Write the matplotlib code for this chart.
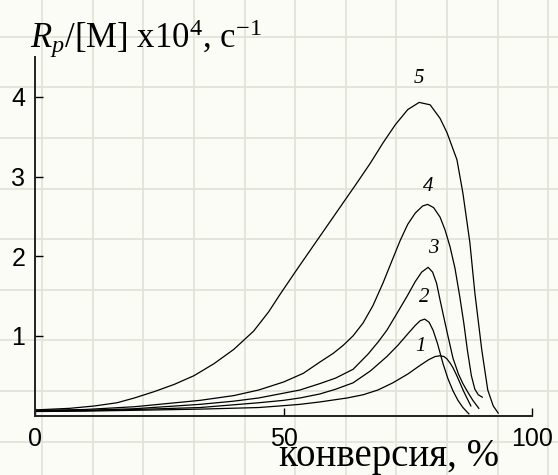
import matplotlib
matplotlib.use("Agg")
import matplotlib.pyplot as plt
from matplotlib.lines import Line2D

# Polymerisation rate curves: conversion (%) vs Rp/[M] x10^4, s^-1
conv_1 = [0, 10, 20, 33.2, 45, 49.3, 53.3, 57.3, 62.8, 66, 69, 72, 75, 77.5, 79.2, 80.5, 81.5, 82.3, 82.9, 83.6, 84.1, 84.8, 85.5, 86.2, 86.9, 87.7]
rate_1 = [0.05, 0.055, 0.065, 0.08, 0.10, 0.12, 0.14, 0.17, 0.22, 0.26, 0.32, 0.41, 0.52, 0.63, 0.70, 0.74, 0.75, 0.74, 0.71, 0.65, 0.60, 0.51, 0.41, 0.31, 0.22, 0.12]

conv_2 = [0, 10, 20, 33.2, 45, 50, 53.3, 57.3, 60.5, 64, 67.5, 70.8, 73, 74.8, 76.5, 77.5, 78.4, 79.3, 80.1, 81, 82.1, 83.1, 84.1, 85.1, 86.1, 87.3]
rate_2 = [0.055, 0.06, 0.075, 0.10, 0.16, 0.19, 0.22, 0.27, 0.33, 0.41, 0.56, 0.74, 0.88, 1.01, 1.13, 1.19, 1.21, 1.17, 1.07, 0.90, 0.65, 0.46, 0.31, 0.19, 0.10, 0.02]

conv_3 = [0, 10, 20, 33.2, 40, 45, 50, 53.3, 57.3, 60.5, 64, 67, 69, 70.8, 73, 74.8, 76.5, 77.8, 79.1, 80.0, 80.8, 81.5, 82.3, 82.9, 84.1, 85.2, 86.1, 87.2, 88.1, 89.3]
rate_3 = [0.06, 0.065, 0.085, 0.14, 0.18, 0.22, 0.28, 0.32, 0.40, 0.47, 0.58, 0.77, 0.92, 1.07, 1.30, 1.49, 1.68, 1.80, 1.86, 1.80, 1.66, 1.45, 1.22, 1.05, 0.72, 0.52, 0.40, 0.28, 0.19, 0.09]

conv_4 = [0, 10, 20, 33.2, 40, 45, 50, 54, 57.3, 60, 62, 64, 66, 68, 70, 72, 73.5, 75, 76.5, 78, 79, 80.2, 81.5, 82.5, 83.5, 84.5, 85.5, 86.3, 87, 87.8, 88.5, 89.2, 90]
rate_4 = [0.065, 0.075, 0.11, 0.19, 0.25, 0.32, 0.42, 0.53, 0.67, 0.78, 0.88, 1.0, 1.16, 1.38, 1.66, 1.97, 2.2, 2.40, 2.54, 2.63, 2.65, 2.61, 2.49, 2.33, 2.12, 1.85, 1.48, 1.15, 0.82, 0.50, 0.33, 0.26, 0.23]

conv_5 = [0, 7, 12, 16.5, 20, 24, 28, 32, 36, 40, 44, 47, 49.3, 53, 57, 61, 65, 67.5, 70, 72.5, 75, 77.3, 79.5, 81.5, 82.9, 84.9, 86.1, 87.5, 88.5, 89.9, 91.1, 92.2, 93.2]
rate_5 = [0.07, 0.09, 0.12, 0.16, 0.22, 0.30, 0.39, 0.50, 0.65, 0.83, 1.06, 1.30, 1.52, 1.86, 2.22, 2.58, 2.94, 3.17, 3.42, 3.65, 3.84, 3.93, 3.90, 3.73, 3.55, 3.21, 2.79, 2.17, 1.54, 0.82, 0.32, 0.12, 0.03]

series = [(conv_1, rate_1), (conv_2, rate_2), (conv_3, rate_3), (conv_4, rate_4), (conv_5, rate_5)]
curve_names = ["1", "2", "3", "4", "5"]
name_x = [77.5, 78.3, 80.1, 79.1, 77.3]
name_y = [0.86, 1.48, 2.09, 2.87, 4.23]

x_ticks = [0, 50, 100]
y_ticks = [1, 2, 3, 4]

W, H = 558, 475
fig = plt.figure(figsize=(W / 100, H / 100), dpi=100, facecolor="#fcfcf7")

# graph-paper background
for k in range(12):
    px = 42.1 + 50.6 * k
    if px < W:
        fig.add_artist(Line2D([px / W, px / W], [0, 1], transform=fig.transFigure,
                              color="#e3e3da", lw=1.3, zorder=0))
for k in range(10):
    py = 36.8 + 50.6 * k
    if py < H:
        fig.add_artist(Line2D([0, 1], [1 - py / H, 1 - py / H], transform=fig.transFigure,
                              color="#e3e3da", lw=1.3, zorder=0))

ax = fig.add_axes([35 / W, 1 - 415.5 / H, 497 / W, (415.5 - 57) / H])
ax.patch.set_alpha(0)

for cx, cy in series:
    ax.plot(cx, cy, color="black", lw=0.9, solid_joinstyle="round")

for name, lx, ly in zip(curve_names, name_x, name_y):
    ax.text(lx, ly, name, fontsize=15, fontstyle="italic", family="Liberation Serif",
            ha="center", va="center")

ax.set_xlim(0, 100)
ax.set_ylim(0, 4.5)
ax.set_xticks(x_ticks)
ax.set_yticks(y_ticks)
ax.set_xticklabels([str(v) for v in x_ticks])
ax.set_yticklabels([str(v) for v in y_ticks])
for side in ("top", "right"):
    ax.spines[side].set_visible(False)
for side in ("left", "bottom"):
    ax.spines[side].set_linewidth(1.4)
    ax.spines[side].set_color("#222222")
ax.tick_params(direction="in", length=6, width=1.0, colors="black")
ax.tick_params(axis="y", pad=7)
ax.tick_params(axis="x", pad=8)
for lab in ax.get_xticklabels() + ax.get_yticklabels():
    lab.set_family("Liberation Sans")
    lab.set_fontsize(18)

plt.rcParams["mathtext.fontset"] = "custom"
plt.rcParams["mathtext.rm"] = "Liberation Serif"
plt.rcParams["mathtext.it"] = "Liberation Serif:italic"

fig.text(30 / W, 1 - 48 / H, r"$R_p$/[M] x10$^4$, с$^{-1}$", family="Liberation Serif",
         fontsize=25, ha="left", va="baseline")
fig.text(499 / W, 1 - 466 / H, "конверсия, %", family="Liberation Serif",
         fontsize=28, ha="right", va="baseline")

fig.savefig("out.png", dpi=100, facecolor=fig.get_facecolor())
